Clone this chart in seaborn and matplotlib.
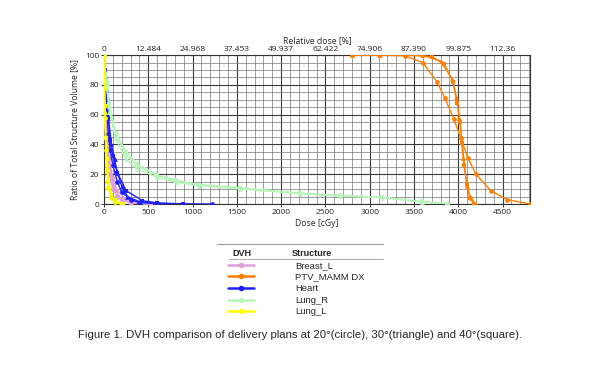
import matplotlib
matplotlib.use("Agg")
import matplotlib.pyplot as plt
from matplotlib.lines import Line2D
from matplotlib.ticker import MultipleLocator
import pandas as pd
import seaborn as sns

# structures and colours
structures = ["Breast_L", "PTV_MAMM DX", "Heart", "Lung_R", "Lung_L"]
colors = ["#dda0dd", "#ff8000", "#1f1fff", "#b8f5b8", "#ffff00"]
plans = ["20", "30", "40"]
plan_markers = {"20": "o", "30": "^", "40": "s"}

# dose [cGy] / volume [%], per structure and plan
breast_20_x = [0, 10, 20, 40, 60, 100, 150, 200, 300, 500]
breast_20_y = [100, 72, 52, 30, 20, 10, 5, 2.5, 0.8, 0]
breast_30_x = [0, 10, 20, 40, 60, 100, 150, 200, 300, 450]
breast_30_y = [100, 78, 60, 38, 26, 14, 7, 3.5, 1, 0]
breast_40_x = [0, 10, 20, 40, 60, 100, 150, 250, 400, 530]
breast_40_y = [100, 82, 64, 42, 30, 17, 9, 3, 0.8, 0]

ptv_20_x = [2800, 3100, 3400, 3600, 3760, 3850, 3950, 4030, 4108, 4200, 4366, 4550, 4810]
ptv_20_y = [100, 100, 99.5, 95, 82, 71, 57, 44, 31, 20, 9, 3, 0]
ptv_30_x = [2800, 3118, 3590, 3800, 3930, 3980, 4014, 4035, 4055, 4100, 4139, 4200]
ptv_30_y = [100, 100, 100, 96, 84, 72, 58, 45, 31, 12, 4, 0]
ptv_40_x = [2800, 3394, 3700, 3844, 3940, 3987, 4020, 4044, 4070, 4094, 4130, 4180]
ptv_40_y = [100, 100, 99, 94, 82, 68, 55, 41, 26, 13, 4, 0]

heart_20_x = [0, 15, 30, 50, 70, 100, 150, 200, 300, 400, 600, 1220]
heart_20_y = [100, 82, 64, 47, 36, 26, 15, 8, 3, 1, 0.3, 0]
heart_30_x = [0, 15, 30, 50, 83, 120, 151, 200, 265, 400, 700]
heart_30_y = [100, 86, 72, 58, 40, 30, 21, 12, 5, 1.5, 0]
heart_40_x = [0, 15, 30, 50, 68, 100, 151, 250, 434, 600, 888]
heart_40_y = [100, 90, 76, 58, 43, 32, 21, 9, 2.2, 0.8, 0]

lungr_20_x = [0, 30, 60, 132, 250, 378, 600, 813, 1077, 1531, 2211, 2665, 3137, 3590, 3874]
lungr_20_y = [100, 80, 65, 47, 33, 25.7, 19, 15.6, 12.7, 10.8, 7.1, 5.6, 4.5, 1.6, 0]
lungr_30_x = [0, 30, 60, 132, 250, 378, 600, 813, 1077, 1531, 2211, 2665, 3137, 3590, 3874]
lungr_30_y = [100, 78, 62, 44, 30, 23.5, 18, 14.6, 12.2, 10.2, 6.8, 5.3, 4.2, 1.4, 0]
lungr_40_x = [0, 30, 60, 132, 250, 378, 600, 813, 1077, 1531, 2211, 2665, 3137, 3590, 3874]
lungr_40_y = [100, 82, 67, 48, 35, 27, 19.5, 16, 13, 11, 7.3, 5.8, 4.6, 1.7, 0]

lungl_20_x = [0, 5, 10, 20, 30, 50, 80, 120, 200]
lungl_20_y = [100, 78, 58, 36, 23, 11, 4, 1.5, 0]
lungl_30_x = [0, 5, 10, 20, 30, 50, 80, 120, 180]
lungl_30_y = [100, 82, 62, 40, 27, 13, 5, 2, 0]
lungl_40_x = [0, 5, 10, 20, 30, 50, 80, 120, 220]
lungl_40_y = [100, 85, 66, 44, 30, 15, 6, 2.5, 0]

top_ticks = [0, 500, 1000, 1500, 2000, 2500, 3000, 3500, 4000, 4500]
top_labels = ["0", "12.484", "24.968", "37.453", "49.937", "62.422",
              "74.906", "87.390", "99.875", "112.36"]

series = {
    ("Breast_L", "20"): (breast_20_x, breast_20_y),
    ("Breast_L", "30"): (breast_30_x, breast_30_y),
    ("Breast_L", "40"): (breast_40_x, breast_40_y),
    ("PTV_MAMM DX", "20"): (ptv_20_x, ptv_20_y),
    ("PTV_MAMM DX", "30"): (ptv_30_x, ptv_30_y),
    ("PTV_MAMM DX", "40"): (ptv_40_x, ptv_40_y),
    ("Heart", "20"): (heart_20_x, heart_20_y),
    ("Heart", "30"): (heart_30_x, heart_30_y),
    ("Heart", "40"): (heart_40_x, heart_40_y),
    ("Lung_R", "20"): (lungr_20_x, lungr_20_y),
    ("Lung_R", "30"): (lungr_30_x, lungr_30_y),
    ("Lung_R", "40"): (lungr_40_x, lungr_40_y),
    ("Lung_L", "20"): (lungl_20_x, lungl_20_y),
    ("Lung_L", "30"): (lungl_30_x, lungl_30_y),
    ("Lung_L", "40"): (lungl_40_x, lungl_40_y),
}
rows = []
for (s, p), (xs, ys) in series.items():
    for x, y in zip(xs, ys):
        rows.append({"dose": x, "volume": y, "structure": s, "plan": p})
df = pd.DataFrame(rows)

sns.set_style("white")
plt.rcParams["font.family"] = ["Liberation Sans", "DejaVu Sans"]

fig = plt.figure(figsize=(6, 3.78), dpi=100)
ax = fig.add_axes([0.1733, 0.4603, 0.71, 0.394])

sns.lineplot(data=df, x="dose", y="volume", hue="structure", style="plan",
             hue_order=structures, palette=colors, style_order=plans,
             markers=plan_markers, dashes=False, estimator=None,
             sort=False, linewidth=1.0, markersize=3.4, markeredgewidth=0,
             legend=False, ax=ax, zorder=3)

ax.set_xlim(0, 4810)
ax.set_ylim(0, 100)
ax.xaxis.set_major_locator(MultipleLocator(500))
ax.xaxis.set_minor_locator(MultipleLocator(100))
ax.yaxis.set_major_locator(MultipleLocator(20))
ax.yaxis.set_minor_locator(MultipleLocator(5))
ax.grid(which="major", color="#3a3a3a", linewidth=0.8)
ax.grid(which="minor", color="#777777", linewidth=0.5)
ax.set_axisbelow(True)
for sp in ax.spines.values():
    sp.set_color("#333333")
    sp.set_linewidth(0.8)
ax.tick_params(axis="both", labelsize=6, length=2, width=0.6, pad=1.5,
               colors="#222222", left=True, bottom=True)
ax.tick_params(which="minor", length=0)
ax.set_xlabel("Dose [cGy]", fontsize=6.2, labelpad=2, family="Open Sans")
ax.set_ylabel("Ratio of Total Structure Volume [%]", fontsize=6.2, labelpad=4,
              family="Open Sans")
for lab in ax.get_xticklabels() + ax.get_yticklabels():
    lab.set_family("Open Sans")

top = ax.twiny()
top.set_xlim(ax.get_xlim())
top.set_xticks(top_ticks)
top.set_xticklabels(top_labels, family="Open Sans")
top.tick_params(axis="x", labelsize=6, length=0, pad=1.5, colors="#222222")
top.set_xlabel("Relative dose [%]", fontsize=6.2, labelpad=2, family="Open Sans")
for sp in top.spines.values():
    sp.set_visible(False)

# legend table below the plot
fig.add_artist(Line2D([217 / 600, 383 / 600], [1 - 244 / 378] * 2,
                      color="#999999", linewidth=0.8))
fig.add_artist(Line2D([229 / 600, 383 / 600], [1 - 259 / 378] * 2,
                      color="#999999", linewidth=0.6))
fig.text(232 / 600, 1 - 254 / 378, "DVH", fontsize=6.5, fontweight="bold",
         va="center")
fig.text(292 / 600, 1 - 254 / 378, "Structure", fontsize=6.5,
         fontweight="bold", va="center")
handles = [Line2D([], [], color=c, marker="o", markersize=3, linewidth=1.8)
           for c in colors]
fig.legend(handles, structures, loc="upper left",
           bbox_to_anchor=(226 / 600, 1 - 259 / 378), frameon=False,
           fontsize=6.8, handlelength=2.8, handletextpad=4.3,
           labelspacing=0.28, borderaxespad=0, borderpad=0.2)

fig.text(0.5, 1 - 335 / 378,
         "Figure 1. DVH comparison of delivery plans at 20\u00b0(circle), "
         "30\u00b0(triangle) and 40\u00b0(square).",
         ha="center", va="center", fontsize=8.2)

fig.savefig("out.png", dpi=100)
